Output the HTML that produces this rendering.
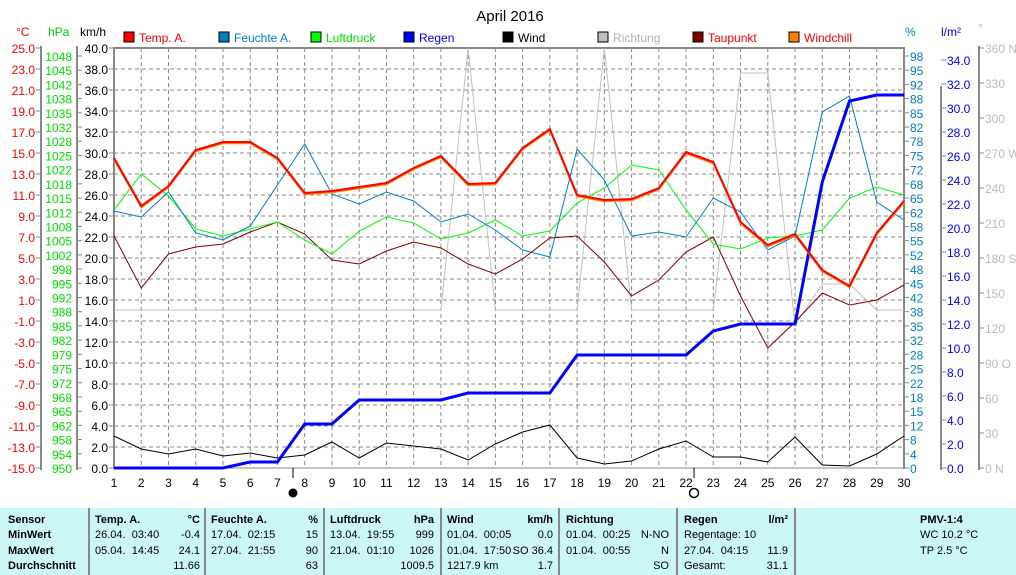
<!DOCTYPE html>
<html><head><meta charset="utf-8"><style>
body{margin:0;width:1016px;height:575px;background:#fff;overflow:hidden;font-family:"Liberation Sans",sans-serif}
svg{position:absolute;left:0;top:0}
#tbl{position:absolute;left:0;top:508px;width:1016px;height:67px;background:#ccf8f4;font-size:11px;line-height:15.3px}
.c{position:absolute;top:5px}
.b{font-weight:bold}
.sep{position:absolute;top:0;width:2px;height:67px;background:#888}
.r{position:absolute;text-align:right}
</style></head><body>
<svg id="s" width="1016" height="508" font-family="Liberation Sans, sans-serif" font-size="12"></svg>
<div id="tbl">
<div class="c b" style="left:8px">Sensor<br>MinWert<br>MaxWert<br>Durchschnitt</div>
<div class="sep" style="left:88px"></div>
<div class="c" style="left:95px"><b>Temp. A.</b><br>26.04.&nbsp; 03:40<br>05.04.&nbsp; 14:45<br>&nbsp;</div>
<div class="c r" style="left:150px;width:50px"><b>°C</b><br>-0.4<br>24.1<br>11.66</div>
<div class="sep" style="left:204px"></div>
<div class="c" style="left:211px"><b>Feuchte A.</b><br>17.04.&nbsp; 02:15<br>27.04.&nbsp; 21:55<br>&nbsp;</div>
<div class="c r" style="left:270px;width:48px"><b>%</b><br>15<br>90<br>63</div>
<div class="sep" style="left:323px"></div>
<div class="c" style="left:330px"><b>Luftdruck</b><br>13.04.&nbsp; 19:55<br>21.04.&nbsp; 01:10<br>&nbsp;</div>
<div class="c r" style="left:390px;width:44px"><b>hPa</b><br>999<br>1026<br>1009.5</div>
<div class="sep" style="left:440px"></div>
<div class="c" style="left:447px"><b>Wind</b><br>01.04.&nbsp; 00:05<br>01.04.&nbsp; 17:50<br>1217.9 km</div>
<div class="c r" style="left:500px;width:53px"><b>km/h</b><br>0.0<br>SO 36.4<br>1.7</div>
<div class="sep" style="left:558px"></div>
<div class="c" style="left:566px"><b>Richtung</b><br>01.04.&nbsp; 00:25<br>01.04.&nbsp; 00:55<br>&nbsp;</div>
<div class="c r" style="left:620px;width:49px">&nbsp;<br>N-NO<br>N<br>SO</div>
<div class="sep" style="left:676px"></div>
<div class="c" style="left:684px"><b>Regen</b><br>Regentage: 10<br>27.04.&nbsp; 04:15<br>Gesamt:</div>
<div class="c r" style="left:740px;width:48px"><b>l/m²</b><br>&nbsp;<br>11.9<br>31.1</div>
<div class="sep" style="left:794px"></div>
<div class="c" style="left:920px"><b>PMV-1:4</b><br>WC 10.2 °C<br>TP 2.5 °C</div>
</div>
<script>
var s=document.getElementById('s'),h='';
function X(d){return 114+(d-1)*790/29}
function line(x1,y1,x2,y2,c,w,da){h+='<line x1="'+x1+'" y1="'+y1+'" x2="'+x2+'" y2="'+y2+'" stroke="'+c+'" stroke-width="'+(w||1)+'"'+(da?' stroke-dasharray="'+da+'"':'')+'/>'}
function txt(x,y,t,c,a,sz){h+='<text x="'+x+'" y="'+y+'" fill="'+c+'" text-anchor="'+(a||'start')+'"'+(sz?' font-size="'+sz+'"':'')+'>'+t+'</text>'}
for(var i=0;i<20;i++){var y=48+i*21;line(114,y,904,y,'#888',1,'4,3')}
for(var d=2;d<30;d++)line(X(d),48,X(d),468,'#888',1,'4,3');
line(114,48,904,48,'#888',2);line(114,47,114,469,'#888',2);line(904,47,904,469,'#888',2);line(113,468,905,468,'#888',1);
txt(510,21,'April 2016','#000','middle',15);
var lg=[[124,'#ff0000','Temp. A.','#ff0000'],[219,'#0080c0','Feuchte A.','#0080c0'],[311,'#00ff00','Luftdruck','#00e000'],[404,'#0000ff','Regen','#0000ff'],[503,'#000','Wind','#000'],[598,'#c0c0c0','Richtung','#b0b0b0'],[693,'#800000','Taupunkt','#ff0000'],[789,'#ff8000','Windchill','#ff0000']];
lg.forEach(function(l){h+='<rect x="'+l[0]+'" y="32" width="10" height="10" fill="'+l[1]+'" stroke="#000"/>';txt(l[0]+15,42,l[2],l[3])});
txt(16,36,'°C','#f00');txt(48,36,'hPa','#0c0');txt(80,36,'km/h','#000');
txt(905,36,'%','#0080c0');txt(941,36,'l/m²','#0000ff');txt(978,32,'°','#bbb');
line(41,46,41,470,'#888',2);line(77,46,77,470,'#888',2);
for(i=0;i<=20;i++){var y=48+i*21;line(36,y,41,y,'#888');txt(35,y+5,(25-2*i).toFixed(1),'#f00','end');
 line(109,y,114,y,'#888');txt(108,y+5,(40-2*i).toFixed(1),'#000','end');}
var hp=[1048,1045,1042,1038,1035,1032,1028,1025,1022,1018,1015,1012,1008,1005,1002,998,995,992,988,985,982,979,975,972,968,965,962,958,954,950];
hp.forEach(function(p,k){var y=k==hp.length-1?468:56+k*(412/29);line(77,y,82,y,'#888');txt(72,y+5,p,'#00e000','end')});
line(941,86,941,470,'#888',2);line(979,46,979,470,'#888',2);
var pc=[98,95,92,88,85,82,78,75,72,68,65,62,58,55,52,48,45,42,38,35,32,28,25,22,18,15,12,8,4,0];
pc.forEach(function(p,k){var y=k==pc.length-1?468:56+k*(412/29);line(904,y,909,y,'#888');txt(910,y+5,p,'#0080c0')});
for(i=0;i<=17;i++){var y=468-i*24;line(941,y,946,y,'#888');txt(947,y+5,(2*i).toFixed(1),'#0000ff')}
var dl={360:'360 N',270:'270 W',180:'180 S',90:'90 O',0:'0 N'};
for(i=0;i<=12;i++){var v=i*30,y=468-v*420/360;line(979,y,984,y,'#888');txt(985,y+5,dl[v]||v,'#bbb')}
for(d=1;d<=30;d++)txt(X(d),487,d,'#000','middle');
line(293,468,293,478,'#000');line(694,468,694,478,'#000');
h+='<circle cx="293" cy="493" r="4.5" fill="#000"/><circle cx="694" cy="493" r="4.5" fill="#fff" stroke="#000" stroke-width="1.5"/>';
function pl(a,c,w){var p=a.map(function(v,k){return X(k+1)+','+v}).join(' ');h+='<polyline points="'+p+'" fill="none" stroke="'+c+'" stroke-width="'+w+'"/>'}
var dir=[310,310,310,310,310,310,310,310,310,310,310,310,310,48,310,310,310,310,48,310,310,310,310,73,73,325,284,284,310,310];
var wind=[436,449,454,449,456,453,458,455,442,458,443,446,449,460,444,432,425,458,464,461,449,441,457,457,462,437,465,466,454,436];
var dew=[236,288,254,247,244,232,222,234,260,264,251,242,248,264,274,259,238,236,262,296,280,252,237,296,348,322,293,305,300,285];
var pres=[210,174,196,229,236,229,222,240,254,231,217,223,239,233,220,236,231,203,188,165,170,210,244,249,238,236,230,198,187,195];
var hum=[211,217,192,233,240,226,185,144,194,204,192,201,222,214,230,250,257,149,180,236,232,237,198,212,250,236,112,96,202,220];
var rain=[468,468,468,468,468,462,462,424,424,400,400,400,400,393,393,393,393,355,355,355,355,355,331,324,324,324,182,101,95,95];
var temp=[158,206,186,150,142,142,158,193,191,187,183,168,156,184,183,148,129,195,200,199,188,152,162,222,245,234,270,286,233,201];
pl(dir,'#c0c0c0',1);pl(wind,'#000',1);pl(dew,'#800000',1);pl(pres,'#00ff00',1);pl(hum,'#0080c0',1);pl(rain,'#0000ff',3);
pl(temp.map(function(v){return v+1.5}),'#ff8000',1.5);pl(temp,'#ff0000',2);
s.innerHTML=h;
</script>
</body></html>
